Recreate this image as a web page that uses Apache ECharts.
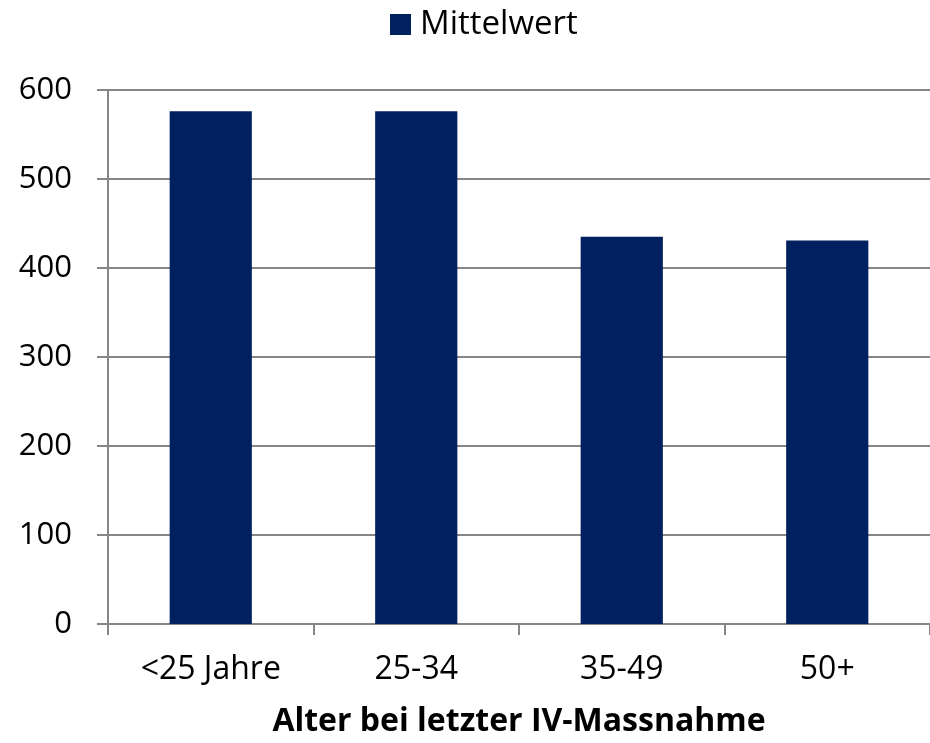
<!DOCTYPE html>
<html><head><meta charset="utf-8">
<script src="https://cdn.jsdelivr.net/npm/echarts@6/dist/echarts.min.js"></script>
<style>html,body{margin:0;padding:0;background:#fff}#c{width:930px;height:743px}</style>
</head><body><div id="c"></div>
<script>
const categories = ['<25 Jahre', '25-34', '35-49', '50+'];
const mittelwert = [576, 576, 435, 431];
const yTicks = [0, 100, 200, 300, 400, 500, 600];
const seriesName = 'Mittelwert';
const xTitle = 'Alter bei letzter IV-Massnahme';

const FONT = '"Open Sans", sans-serif';
const chart = echarts.init(document.getElementById('c'));
chart.setOption({
  animation: false,
  textStyle: { fontFamily: FONT },
  legend: {
    data: [{ name: seriesName, icon: 'rect' }], top: 8, left: 390,
    itemWidth: 21, itemHeight: 21, itemGap: 8, padding: 0,
    textStyle: { fontSize: 33, color: '#000', fontFamily: FONT, padding: [0, 0, 0, 4] }
  },
  grid: { left: 108, right: 0, top: 90, bottom: 115, containLabel: false },
  xAxis: {
    type: 'category', data: categories,
    name: xTitle, nameLocation: 'middle', nameGap: 82,
    nameTextStyle: { fontSize: 32, fontWeight: 'bold', color: '#000', fontFamily: FONT },
    axisLine: { lineStyle: { color: '#868686', width: 2 } },
    axisTick: { show: true, length: 11, lineStyle: { color: '#868686', width: 2 } },
    axisLabel: { fontSize: 32, color: '#000', margin: 30, fontFamily: FONT }
  },
  yAxis: {
    type: 'value', min: yTicks[0], max: yTicks[yTicks.length - 1], interval: 100,
    axisLine: { show: true, lineStyle: { color: '#868686', width: 2 } },
    axisTick: { show: true, length: 11, lineStyle: { color: '#868686', width: 2 } },
    splitLine: { lineStyle: { color: '#868686', width: 2 } },
    axisLabel: { fontSize: 31, color: '#000', margin: 36, fontFamily: FONT }
  },
  series: [{
    name: seriesName, type: 'bar', data: mittelwert, barWidth: '40%',
    itemStyle: { color: '#00205F' }
  }]
});
</script></body></html>
